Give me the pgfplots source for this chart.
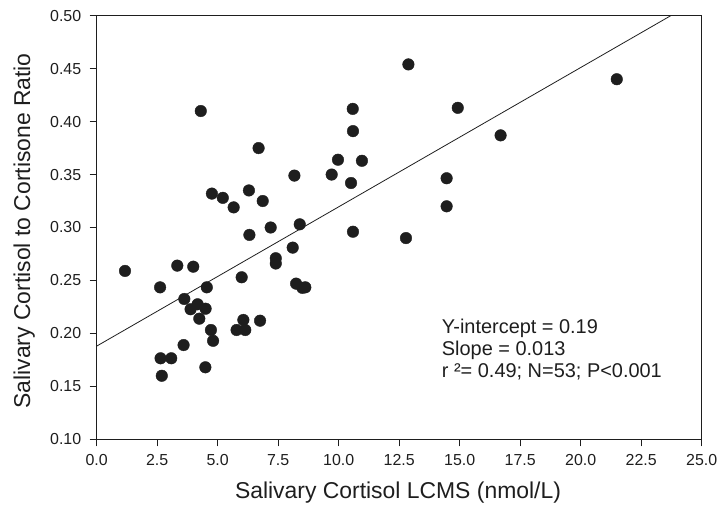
\documentclass[border=0pt]{standalone}
\usepackage{pgfplots}
\pgfplotsset{compat=1.18}
\usepackage{fontspec}
\setmainfont{Liberation Sans}
\definecolor{ink}{HTML}{1E1E1E}
\begin{document}
\begin{tikzpicture}
\path[use as bounding box] (-96.7bp,-73.7bp) rectangle (622.3bp,439.3bp);
\begin{axis}[
  at={(0,0)}, anchor=south west,
  scale only axis, width=605bp, height=423.6bp,
  xmin=0, xmax=25, ymin=0.10, ymax=0.50,
  xtick={0,2.5,5,7.5,10,12.5,15,17.5,20,22.5,25},
  ytick={0.10,0.15,0.20,0.25,0.30,0.35,0.40,0.45,0.50},
  tick pos=left, tick align=outside, major tick length=7bp,
  axis line style={ink, line width=1.1bp},
  every tick/.style={ink, line width=1bp},
  xticklabel style={font=\fontsize{16}{19}\selectfont, text=ink, yshift=-5bp,
    /pgf/number format/.cd, fixed, fixed zerofill, precision=1, assume math mode=true},
  yticklabel style={font=\fontsize{16}{19}\selectfont, text=ink, xshift=-5bp,
    /pgf/number format/.cd, fixed, fixed zerofill, precision=2, assume math mode=true},
  every axis x label/.style={at={(axis description cs:0.498,-0.1393)}, anchor=base},
  every axis y label/.style={at={(axis description cs:-0.1102,0.492)}, anchor=base, rotate=90},
  label style={font=\fontsize{23}{27}\selectfont, text=ink},
  xlabel={Salivary Cortisol LCMS (nmol/L)},
  ylabel={Salivary Cortisol to Cortisone Ratio},
  clip=false,
]
\addplot[only marks, mark=*, mark size=5.8bp, color=ink] coordinates {
(1.17,0.259) (2.62,0.2435) (3.33,0.264) (3.99,0.263) (4.55,0.2435)
(3.62,0.2325) (3.88,0.2228) (4.17,0.2275) (4.50,0.2233) (4.24,0.2139)
(4.72,0.2032) (4.81,0.193) (3.59,0.189) (2.64,0.1765) (3.08,0.1765)
(2.69,0.160) (4.49,0.168) (5.99,0.253) (6.31,0.293) (7.19,0.300)
(8.39,0.303) (8.10,0.281) (7.40,0.271) (7.40,0.266) (8.24,0.247)
(8.50,0.243) (8.62,0.2435) (5.78,0.2032) (6.06,0.2127) (6.14,0.2032)
(6.75,0.212) (10.59,0.296) (12.78,0.290) (4.30,0.410) (10.58,0.412)
(10.59,0.391) (12.88,0.454) (6.69,0.375) (8.17,0.349) (9.71,0.350)
(9.97,0.364) (10.96,0.363) (10.51,0.342) (4.76,0.332) (5.21,0.328)
(5.66,0.319) (6.29,0.335) (6.86,0.325) (21.49,0.440) (14.92,0.413)
(16.69,0.387) (14.46,0.3465) (14.46,0.320)
};
\addplot[ink, line width=0.8bp] coordinates {(0,0.188) (23.72,0.50)};
\node[anchor=base west, font=\fontsize{20}{24}\selectfont, text=ink] at (axis cs:14.12,0.2001) {Y-intercept = 0.19};
\node[anchor=base west, font=\fontsize{20}{24}\selectfont, text=ink] at (axis cs:14.12,0.1796) {Slope = 0.013};
\node[anchor=base west, font=\fontsize{20}{24}\selectfont, text=ink] at (axis cs:14.12,0.1582) {r ²= 0.49; N=53; P<0.001};
\end{axis}
\end{tikzpicture}
\end{document}
